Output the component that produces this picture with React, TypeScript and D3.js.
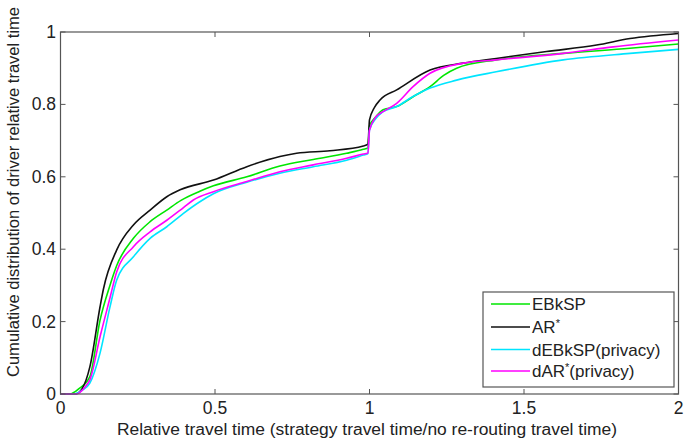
import React from "react";
import * as d3 from "d3";

const xTicks = [0, 0.5, 1, 1.5, 2];
const xTickLabels = ["0", "0.5", "1", "1.5", "2"];
const yTicks = [0, 0.2, 0.4, 0.6, 0.8, 1];
const yTickLabels = ["0", "0.2", "0.4", "0.6", "0.8", "1"];

const seriesNames = ["EBkSP", "AR", "dEBkSP(privacy)", "dAR"];
const seriesColors = ["#00e600", "#111111", "#00e5ff", "#ff00ff"];

// [relative travel time, cumulative probability]
const ebkspData: [number, number][] = [
  [0, 0], [0.03, 0.0], [0.06, 0.015], [0.095, 0.048], [0.128, 0.204], [0.16, 0.3], [0.182, 0.355],
  [0.236, 0.43], [0.29, 0.476], [0.344, 0.508], [0.39, 0.535], [0.451, 0.56], [0.495, 0.575],
  [0.603, 0.6], [0.71, 0.63], [0.818, 0.648], [0.926, 0.665], [0.98, 0.676], [0.995, 0.68],
  [1.0, 0.74], [1.02, 0.765], [1.044, 0.785], [1.088, 0.794], [1.141, 0.821], [1.196, 0.849],
  [1.24, 0.88], [1.282, 0.9], [1.41, 0.923], [1.627, 0.941], [1.843, 0.955], [2.0, 0.967],
];
const arData: [number, number][] = [
  [0, 0], [0.047, 0.0], [0.07, 0.015], [0.095, 0.075], [0.128, 0.241], [0.139, 0.29], [0.182, 0.398],
  [0.236, 0.467], [0.29, 0.508], [0.344, 0.545], [0.387, 0.564], [0.495, 0.591], [0.603, 0.628],
  [0.71, 0.656], [0.764, 0.665], [0.872, 0.672], [0.98, 0.685], [0.995, 0.69], [1.0, 0.757],
  [1.015, 0.79], [1.034, 0.812], [1.088, 0.84], [1.196, 0.895], [1.304, 0.914], [1.41, 0.927],
  [1.573, 0.946], [1.735, 0.964], [1.843, 0.982], [2.0, 0.996],
];
const debkspData: [number, number][] = [
  [0, 0], [0.041, 0.0], [0.07, 0.01], [0.095, 0.03], [0.128, 0.113], [0.16, 0.24], [0.182, 0.315],
  [0.236, 0.379], [0.29, 0.43], [0.344, 0.462], [0.398, 0.499], [0.451, 0.531], [0.495, 0.553],
  [0.603, 0.585], [0.71, 0.61], [0.818, 0.628], [0.926, 0.646], [0.98, 0.66], [0.995, 0.664],
  [1.0, 0.729], [1.02, 0.76], [1.044, 0.78], [1.088, 0.794], [1.141, 0.822], [1.196, 0.845],
  [1.282, 0.867], [1.41, 0.89], [1.627, 0.923], [1.843, 0.941], [2.0, 0.952],
];
const darData: [number, number][] = [
  [0, 0], [0.052, 0.0], [0.08, 0.02], [0.095, 0.039], [0.128, 0.158], [0.16, 0.265], [0.182, 0.338],
  [0.236, 0.407], [0.29, 0.448], [0.344, 0.48], [0.398, 0.515], [0.43, 0.536], [0.495, 0.559],
  [0.603, 0.587], [0.71, 0.614], [0.818, 0.633], [0.926, 0.651], [0.98, 0.663], [0.995, 0.666],
  [1.0, 0.729], [1.02, 0.765], [1.044, 0.78], [1.088, 0.803], [1.141, 0.849], [1.196, 0.886],
  [1.304, 0.914], [1.41, 0.923], [1.627, 0.941], [1.789, 0.959], [2.0, 0.978],
];
const seriesData = [ebkspData, arData, debkspData, darData];

const W = 684;
const H = 441;
const M = { left: 60.5, right: 678.5, top: 32, bottom: 394 };
const FONT = "'Liberation Sans', Arial, sans-serif";
const AXIS = "#555";
const TEXT = "#222";

export default function App() {
  const x = d3.scaleLinear().domain([0, 2]).range([M.left, M.right]);
  const y = d3.scaleLinear().domain([0, 1]).range([M.bottom, M.top]);
  const line = d3
    .line<[number, number]>()
    .x((d) => x(d[0]))
    .y((d) => y(d[1]))
    .curve(d3.curveMonotoneX);

  const tl = 5;
  const legX = 483;
  const legY = 292;
  const legW = 191;
  const legH = 95;
  const rowY = [304, 327, 349.5, 371];

  return (
    <div style={{ position: "fixed", left: 0, top: 0 }}>
      <svg width={W} height={H} style={{ display: "block", background: "#fff" }}>
        {/* series */}
        <g fill="none" strokeWidth={1.6} strokeLinejoin="round">
          {seriesData.map((d, i) => (
            <path key={i} d={line(d) || ""} stroke={seriesColors[i]} />
          ))}
        </g>
        {/* box */}
        <rect
          x={M.left}
          y={M.top}
          width={M.right - M.left}
          height={M.bottom - M.top}
          fill="none"
          stroke={AXIS}
          strokeWidth={1.2}
        />
        {/* ticks */}
        <g stroke={AXIS} strokeWidth={1}>
          {xTicks.map((t, i) => (
            <g key={"xt" + i}>
              <line x1={x(t)} x2={x(t)} y1={M.bottom} y2={M.bottom - tl} />
              <line x1={x(t)} x2={x(t)} y1={M.top} y2={M.top + tl} />
            </g>
          ))}
          {yTicks.map((t, i) => (
            <g key={"yt" + i}>
              <line x1={M.left} x2={M.left + tl} y1={y(t)} y2={y(t)} />
              <line x1={M.right} x2={M.right - tl} y1={y(t)} y2={y(t)} />
            </g>
          ))}
        </g>
        {/* tick labels */}
        <g fontFamily={FONT} fontSize={17.5} fill={TEXT}>
          {xTicks.map((t, i) => (
            <text key={"xl" + i} x={x(t)} y={414} textAnchor="middle">
              {xTickLabels[i]}
            </text>
          ))}
          {yTicks.map((t, i) => (
            <text key={"yl" + i} x={56} y={y(t) + 6} textAnchor="end">
              {yTickLabels[i]}
            </text>
          ))}
        </g>
        {/* axis labels */}
        <text
          x={367}
          y={435}
          textAnchor="middle"
          fontFamily={FONT}
          fontSize={16}
          textLength={500}
          lengthAdjust="spacingAndGlyphs"
          fill={TEXT}
        >
          Relative travel time (strategy travel time/no re-routing travel time)
        </text>
        <text
          transform={`translate(19,192) rotate(-90)`}
          textAnchor="middle"
          fontFamily={FONT}
          fontSize={16}
          textLength={370}
          lengthAdjust="spacingAndGlyphs"
          fill={TEXT}
        >
          Cumulative distribution of driver relative travel time
        </text>
        {/* legend */}
        <g>
          <rect x={legX} y={legY} width={legW} height={legH} fill="#fff" stroke={AXIS} strokeWidth={1.2} />
          {seriesNames.map((n, i) => (
            <g key={"lg" + i}>
              <line x1={491} x2={530} y1={rowY[i]} y2={rowY[i]} stroke={seriesColors[i]} strokeWidth={1.6} />
              <text x={532} y={rowY[i] + 6} fontFamily={FONT} fontSize={17} fill={TEXT}>
                {i === 1 || i === 3 ? (
                  <>
                    {i === 3 ? "dAR" : "AR"}
                    <tspan fontSize={11} dy={-6}>*</tspan>
                    {i === 3 ? <tspan dy={6}>(privacy)</tspan> : null}
                  </>
                ) : (
                  n
                )}
              </text>
            </g>
          ))}
        </g>
      </svg>
    </div>
  );
}
